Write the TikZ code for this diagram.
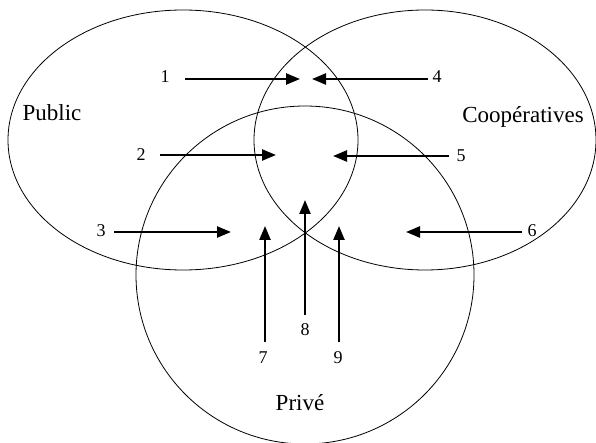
\documentclass[tikz,border=0pt]{standalone}
\usepackage{fontspec}
\setmainfont{Liberation Serif}
\usetikzlibrary{arrows.meta,positioning}

\tikzset{
  zone/.style={draw=black,line width=0.8pt},
  flux/.style={line width=2.4pt,-{Triangle[length=14pt,width=11pt]}},
  num/.style={font=\fontsize{18}{18}\selectfont,inner sep=1pt},
  secteur/.style={font=\fontsize{23}{23}\selectfont,inner sep=1pt},
}

\begin{document}
\begin{tikzpicture}[x=1pt,y=-1pt]
\useasboundingbox (0,0) rectangle (596,443);
% les trois ensembles
\draw[zone] (183,140) ellipse [x radius=175,y radius=130];
\draw[zone] (425,140) ellipse [x radius=171,y radius=130];
\draw[zone] (305,275) circle [radius=169];
\node[secteur] (public) at (52,113) {Public};
\node[secteur] (coop) at (523,117) {Coopératives};
\node[secteur] (prive) at (300,403) {Privé};
% flux vers les intersections
\foreach \n/\lx/\ly/\sx/\sy/\ex/\ey in {
  1/165/77/185/79/300/79,
  2/141/155/160/155/276/155,
  3/101/231/114/232/231/232,
  4/437/77/428/79/312/79,
  5/461/156/449/156/333/156,
  6/532/231/522/232/406/232,
  7/263/358/265/342/265/226,
  8/305/330/305/315/305/200,
  9/338/358/339/342/339/226}
{
  \node[num] (n\n) at (\lx,\ly) {\n};
  \coordinate (s\n) at (\sx,\sy);
  \coordinate (t\n) at (\ex,\ey);
  \draw[flux] (s\n) -- (t\n);
}
\end{tikzpicture}
\end{document}
